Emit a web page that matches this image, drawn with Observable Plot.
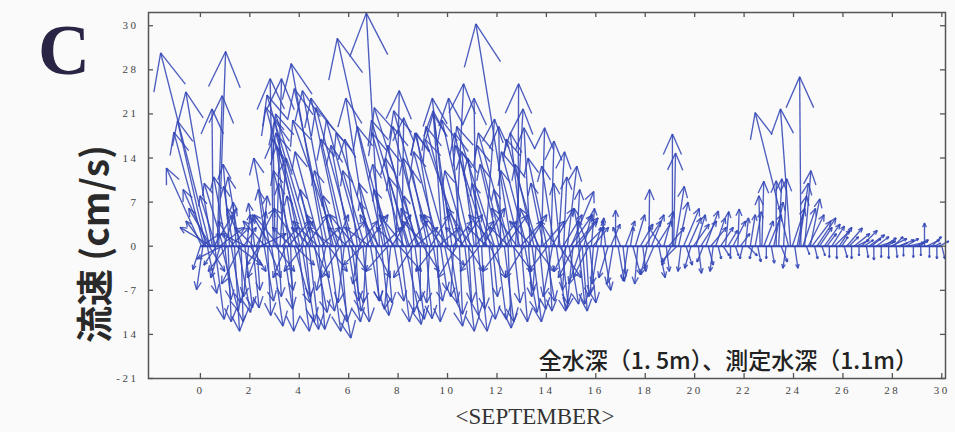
<!DOCTYPE html>
<html><head><meta charset="utf-8">
<script src="https://cdn.jsdelivr.net/npm/d3@7"></script>
<script src="https://cdn.jsdelivr.net/npm/@observablehq/plot@0.6"></script>
<style>
html,body{margin:0;padding:0;background:#fafafa;}
#chart{position:relative;width:955px;height:432px;overflow:hidden;}
#chart svg{position:absolute;left:0;top:0;}
#chart g[aria-label$="tick label"] text{letter-spacing:2.5px;}
.lbl{position:absolute;white-space:nowrap;line-height:1;}
#panel{left:38px;top:9px;font:bold 72px "Liberation Serif","DejaVu Serif",serif;color:#2b2545;}
#ylab{left:93px;top:244px;transform:translate(-50%,-50%) rotate(-90deg);font:bold 37px "Noto Sans CJK JP",sans-serif;color:#2a2a2a;}
#xlab{left:535px;top:404px;transform:translateX(-50%);font:23px "Liberation Serif","DejaVu Serif",serif;color:#333;}
#note{right:37px;top:342px;font:500 23px "Noto Sans CJK JP",sans-serif;color:#222;}
</style>
</head><body>
<div id="chart">
  <div class="lbl" id="panel">C</div>
  <div class="lbl" id="ylab">流速 (cm/s)</div>
  <div class="lbl" id="xlab">&lt;SEPTEMBER&gt;</div>
  <div class="lbl" id="note">全水深（1. 5m）、測定水深（1.1m）</div>
</div>
<script>
// time of each observation (day of September), eastward and northward current (cm/s)
const day = [
 0.00,0.05,0.10,0.15,0.22,0.28,0.32,0.38,0.42,0.48,0.52,0.58,0.62,0.68,0.74,0.80,0.85,0.92,0.98,
 1.05,1.12,1.18,1.25,1.32,1.38,1.45,1.52,1.58,1.65,1.72,1.80,1.88,1.95,
 2.05,2.12,2.20,2.28,2.35,2.42,2.50,2.58,2.65,2.72,2.80,2.88,2.95,
 3.02,3.08,3.15,3.22,3.35,3.42,3.50,3.58,3.65,3.72,3.80,3.88,3.95,
 4.02,4.10,4.18,4.25,4.32,4.40,4.48,4.55,4.62,4.70,4.78,4.85,4.92,
 5.00,5.08,5.15,5.22,5.30,5.38,5.45,5.52,5.60,5.68,5.75,5.82,5.90,5.97,
 6.05,6.12,6.20,6.28,6.35,6.42,6.50,6.58,6.65,6.72,6.80,6.88,6.95,
 7.02,7.10,7.18,7.25,7.32,7.40,7.48,7.55,7.62,7.70,7.78,7.85,7.92,
 8.00,8.08,8.15,8.22,8.30,8.38,8.45,8.52,8.60,8.68,8.75,8.82,8.90,8.97,
 9.05,9.12,9.20,9.28,9.35,9.42,9.50,9.58,9.65,9.72,9.80,9.88,9.95,
 10.02,10.10,10.18,10.25,10.32,10.40,10.48,10.55,10.62,10.70,10.78,10.85,10.92,
 11.00,11.08,11.15,11.22,11.30,11.38,11.45,11.52,11.60,11.68,11.75,11.82,11.90,
 12.00,12.08,12.15,12.22,12.30,12.38,12.45,12.52,12.60,12.68,12.75,12.85,12.92,12.98,
 13.05,13.12,13.20,13.28,13.35,13.42,13.50,13.58,13.65,13.72,13.80,13.88,13.95,
 14.02,14.10,14.18,14.25,14.32,14.40,14.48,14.55,14.62,14.70,14.78,14.85,14.92,
 15.00,15.08,15.15,15.22,15.30,15.38,15.45,15.52,15.60,15.68,15.75,15.82,15.90,
 16.00,16.10,16.20,16.30,16.40,16.50,16.60,16.70,16.80,16.90,17.00,17.10,17.20,17.30,17.40,17.50,17.60,17.70,17.80,17.90,
 18.00,18.08,18.15,18.25,18.35,18.45,18.55,18.65,18.75,18.85,18.95,19.05,19.10,19.15,19.20,19.28,19.35,19.45,19.55,19.65,19.75,19.85,19.95,
 20.05,20.15,20.25,20.35,20.45,20.55,20.65,20.75,20.85,20.95,21.05,21.15,21.25,21.35,21.45,21.55,21.65,21.75,21.85,21.95,
 22.05,22.15,22.25,22.35,22.45,22.55,22.65,22.72,22.80,22.90,23.00,23.10,23.20,23.30,23.40,23.50,23.60,23.70,23.80,23.88,23.95,
 24.05,24.15,24.22,24.30,24.38,24.45,24.52,24.60,24.68,24.75,24.85,24.95,25.05,25.15,25.25,25.35,25.45,25.55,25.65,25.75,25.85,25.95,
 26.05,26.15,26.25,26.35,26.45,26.55,26.65,26.75,26.85,26.95,27.05,27.15,27.25,27.35,27.45,27.55,27.65,27.75,27.85,27.95,
 28.05,28.15,28.25,28.35,28.45,28.55,28.65,28.85,28.95,29.05,29.15,29.30,29.40,29.50,29.60,29.70,29.80,29.90,30.00
];
const east = [
 -1.2,-5.6,-1.0,-4.8,-4.5,1.5,-4.0,-7.8,-3.5,-4.2,-0.2,1.5,-2.5,0.8,1.1,-1.5,2.7,-3.0,1.0,
 -2.0,0.5,-1.0,1.5,-1.5,0.8,-0.5,2.0,-1.8,0.3,-2.5,1.2,0.5,-0.8,
 0.3,1.0,-1.0,0.5,1.2,-2.0,0.8,1.5,-1.2,0.5,-2.5,1.8,-0.5,
 -0.3,0.8,0.5,1.0,1.5,-1.0,1.0,-2.0,0.5,-3.0,2.5,-1.5,1.8,
 -4.0,2.0,-6.0,0.8,-5.0,1.5,-7.0,-2.0,2.0,-6.5,1.0,-4.0,2.0,
 -5.2,-1.5,-5.3,1.8,-4.6,-3.0,2.5,-7.0,-2.5,1.0,-5.0,-1.0,-4.0,2.0,
 -3.0,1.5,-6.0,0.5,-2.0,-1.0,-5.5,1.0,-3.5,-0.5,-3.6,1.5,-2.0,
 -6.0,0.5,-3.0,-2.1,1.2,-7.3,-2.0,0.8,-5.0,-1.0,-3.0,1.5,0.5,
 -2.0,1.5,0.3,-5.0,2.5,-3.0,-6.0,0.5,-4.0,1.5,-2.0,-7.0,0.0,-3.0,
 -5.0,1.0,-2.5,-0.5,-6.0,1.5,-3.0,0.5,-4.0,1.0,-1.5,2.0,-5.0,
 -2.5,2.0,-3.0,-0.5,1.3,-5.0,0.5,-2.0,-6.0,1.5,-3.5,0.5,-4.5,
 1.0,-2.0,-0.3,1.5,-4.0,0.5,-2.5,1.5,-5.0,1.0,-3.0,0.8,-6.0,
 1.5,-3.0,-0.3,-4.0,1.5,-2.0,0.5,-5.0,-5.7,1.0,1.2,0.1,-3.0,1.0,
 -2.0,2.0,-4.0,0.5,-1.0,1.5,-3.0,-0.5,-5.0,1.0,0.5,-2.0,1.5,
 -3.0,0.5,0.5,-1.5,-2.0,1.5,1.0,-1.0,1.0,0.5,-0.5,1.5,1.5,
 3.6,-1.0,3.7,0.5,1.0,-1.0,0.8,1.2,0.5,-1.5,1.0,0.5,-0.5,
 0.8,-1.0,0.5,1.2,-0.5,-1.5,1.5,-1.0,0.0,1.0,-1.2,0.5,1.5,-0.8,0.5,1.2,1.5,-0.5,2.0,0.5,
 2.5,-1.0,0.1,2.0,-1.5,2.5,1.0,-2.0,1.5,0.5,2.5,-1.5,0.0,0.3,1.5,-2.5,1.5,-0.5,2.5,1.0,2.0,-1.0,2.5,
 1.5,0.5,2.5,-1.0,2.0,0.8,2.5,-0.5,1.5,0.5,2.0,1.0,0.5,1.5,0.0,2.0,0.5,0.2,1.5,-0.5,
 0.5,1.5,0.8,-0.5,1.0,0.5,-0.2,0.3,1.5,0.0,2.0,0.5,1.5,0.0,0.5,1.0,0.5,-0.5,-5.3,-1.6,2.0,
 0.5,1.5,1.5,-0.2,2.0,1.0,0.5,2.5,1.5,3.0,0.5,3.0,2.0,0.5,2.5,1.5,0.0,2.0,2.5,0.0,2.0,1.0,
 0.5,2.5,1.5,0.0,2.5,2.0,0.0,2.5,1.5,0.3,2.5,1.5,0.0,2.0,2.5,0.0,2.0,1.5,0.0,2.5,
 1.5,0.2,2.5,1.0,0.0,2.0,2.5,0.0,2.0,1.5,0.0,0.0,2.0,0.0,1.5,1.0,0.0,1.5,0.5
];
const north = [
 -3.7,12.4,-6.9,18.1,19.9,-7.5,9,30.7,6,24.5,21.8,-11.6,8,23.9,30.9,-5,-10.3,10,-8.5,
 11,-12,13,-9,9.5,-13.5,7,-10.5,11,-12,6,-9.8,5,-8,
 4.4,-9.8,6.8,-7,5.5,-5,8,-8.7,9,-11,14,-12.7,26.6,
 17,26.6,-8,14,-10,10,-7,16,-13.5,12,-9,8,-13.5,
 20,-12,22,-8,18,-13.2,24,9,-10.5,21,-13.2,15,-10.3,
 29,-7,25,-13.5,24.7,12,-14.6,20,8,-12,23.5,-9,17,-12,
 16,-10.3,22,-8.7,17,-6,20,-12,12,-9,23.5,-8.7,7,
 18,-8.7,10,37,-11,33,13,-9,19,-10,9,-8.7,24.7,
 14,-12,20.4,18,-12.4,11,20,-10.5,16,-11.6,8,22,-8.7,14,
 19,-11.5,12,-9,21.5,-8.7,18,-12,15,-7,21.5,-9,18,
 23.5,-12.7,21,-8,25.8,19,-10.8,23.5,17,-13.5,12,-9,20,
 -11,15,23.5,-13.5,18,-10,14,20.2,16,-11.6,10,-8,19,
 -11.6,13,19,16,-12,9,-13,18,35.3,-9,21.8,25.8,12,-12,
 18,-10.5,15,-8,18.8,-12,13,-7,17,-10,18.8,10,-8.7,
 14,-10.3,16.7,-8,12.7,-10.3,15,10,-9.2,11,-7,12.7,-9.2,
 8.7,-10,4.5,9,-9.2,6,-10.3,5,-8,4,-9,6,-7.6,
 3,-6,4.5,-7,4,-5,3.5,-6,5.7,-5.6,3,-4.5,4,-5.5,3,-4.5,5,-6,3.5,-4,
 4,-4.5,9,5,-3.5,4,-5,3,5.5,-4,3,-3,17.8,14.8,9.5,-2.5,7,-4,6,-3,4.5,-3.5,3.5,
 5,-4.3,4,-2.5,5.6,-3,3,-4,4.5,-2,3,-1.5,5.5,2.5,-2,4,-1.5,5.9,2,-2,
 4.5,-1.5,5,-2,5.5,-2.5,8,10.3,4,-2,5,-2.7,7,10.4,10.7,-2.5,10.7,-3.5,21.2,21.8,6,
 -3.5,8,10,26.9,6,12,-1.3,5,7.5,4,-2,4.5,3,-1.5,3.5,2,-1.8,3.2,2.5,-2,3,1.5,
 -1.8,2.9,1.5,-2,2,1,-1.5,2.5,1,-1.8,1.8,1.2,-2.2,1.5,0.8,-1.8,1.3,0.8,-2.0,1.2,
 1.5,-1.8,1.0,0.5,-1.6,1.2,0.6,-1.8,1,0.8,-1.5,3.7,1,-1.8,1.5,0.5,-2.0,0.8,-2
];
// weaker, oblique vectors of the same record that fill the band around the zero line
const dayWeak = [
 0.03,0.18,0.35,0.45,0.55,0.65,0.77,0.88,0.95,1.08,1.22,1.35,1.48,1.62,1.75,1.85,
 2.02,2.15,2.25,2.38,2.45,2.62,2.75,2.85,3.05,3.18,3.30,3.45,3.55,3.68,3.85,3.98,
 4.05,4.15,4.28,4.45,4.58,4.75,4.88,5.05,5.18,5.35,5.48,5.65,5.78,5.93,
 6.08,6.25,6.40,6.55,6.70,6.85,7.05,7.22,7.38,7.58,7.75,7.88,
 8.05,8.25,8.42,8.58,8.72,8.88,9.02,9.18,9.32,9.48,9.62,9.78,9.92,
 10.05,10.22,10.38,10.52,10.68,10.82,10.98,11.12,11.28,11.42,11.58,11.72,11.88,
 12.05,12.18,12.35,12.48,12.65,12.80,12.95,13.10,13.25,13.40,13.55,13.70,13.85,
 14.05,14.22,14.38,14.52,14.68,14.82,14.98,15.12,15.28,15.42,15.58,15.72,15.88
];
const eastWeak = [
 3,-3,2.5,-5,3,-2,4,-4,2,-3,3,-2.5,4,-3,2,-4,
 2.5,-3,3,-2,4,-3.5,2,-3,3,-4,2.5,-2,3.5,-3,3,-4,
 2,-3,3.5,-3,2.5,-4,3,-3,3,-4,2,-3,3.5,-3,
 2.5,-4,3,-3,3.5,-4,2.5,-3,3,-3.5,3,-3,
 3.5,-4,3,-3,3.5,-3,2.5,-4,3,-3,3.5,-3.5,3,
 -4,3,-3,3.5,-3,2.5,-4,3,-3,3.5,-3,2.5,-4,
 3,-3,3.5,-3,3,-4,3.5,-3,3,-3.5,3,-3,3.5,
 -3,3.5,-2.5,3.5,3,-2,3.5,-2.5,3,-2,3,-2.5,2.5
];
const northWeak = [
 2,4,-4,3,5,-3,3,-2,6,-4,3,4,-3,-6,3,2,
 -4,3,6,-3,2,4,-5,5,-4,5,3,-5,4,3,-3,6,
 4,-4,5,3,-5,4,3,5,-4,3,5,-5,4,3,
 -4,5,4,-3,5,3,-5,5,3,-4,5,3,
 -4,5,4,-5,3,6,-4,4,5,-4,3,5,-3,
 5,4,-5,5,3,-4,6,4,-4,6,3,-5,5,
 4,-4,5,3,-4,6,4,-5,5,4,-4,6,4,
 -4,6,4,-5,5,-4,5,-5,4,-6,3,-5,3
];
const xTicks = [0,2,4,6,8,10,12,14,16,18,20,22,24,26,28,30];
const yTicks = [-21,-14,-7,0,7,14,21,28,35];
const yTickLabels = ["-21","14","-7","0","7","14","21","28","30"];

const W = 955, H = 432, mL = 148, mR = 10, mT = 12, mB = 54;
const xDomain = [-2.1, 30.15], yDomain = [-21, 37.1];
const pxPerDay = (W - mL - mR) / (xDomain[1] - xDomain[0]);
const pxPerCm = (H - mT - mB) / (yDomain[1] - yDomain[0]);
const k = pxPerCm / pxPerDay; // days of x-axis per cm/s of eastward speed (equal pixel scale)

const rows = day.map((t, i) => ({t, u: east[i], v: north[i]}))
  .concat(dayWeak.map((t, i) => ({t, u: eastWeak[i], v: northWeak[i]})));
const stems = rows.map(d => ({x1: d.t, y1: 0, x2: d.t + d.u * k, y2: d.v}));
const heads = [];
const ang = 24 * Math.PI / 180;
for (const d of rows) {
  const m = Math.hypot(d.u, d.v);
  if (!m) continue;
  const h = 0.2 * m;
  const bx = -d.u / m, by = -d.v / m;
  for (const s of [-1, 1]) {
    const c = Math.cos(s * ang), sn = Math.sin(s * ang);
    const rx = bx * c - by * sn, ry = bx * sn + by * c;
    const wu = d.u + h * rx, wv = d.v + h * ry;
    heads.push({x1: d.t + d.u * k, y1: d.v, x2: d.t + wu * k, y2: wv});
  }
}

const col = "#3347b6";
const tickLenY = 5 / pxPerCm, tickLenX = 5 / pxPerDay;
const serif = "Liberation Serif, DejaVu Serif, serif";

const chart = Plot.plot({
  width: W, height: H,
  marginLeft: mL, marginRight: mR, marginTop: mT, marginBottom: mB,
  x: {domain: xDomain, axis: null},
  y: {domain: yDomain, axis: null},
  style: {background: "transparent", overflow: "visible"},
  marks: [
    Plot.ruleY([0], {x1: d3.min(day), x2: d3.max(day), stroke: col, strokeWidth: 2}),
    Plot.link(stems, {x1: "x1", y1: "y1", x2: "x2", y2: "y2", stroke: col, strokeWidth: 1.35, strokeOpacity: 0.88}),
    Plot.link(heads, {x1: "x1", y1: "y1", x2: "x2", y2: "y2", stroke: col, strokeWidth: 1.35, strokeOpacity: 0.88}),
    Plot.frame({stroke: "#555", strokeWidth: 1.5}),
    Plot.ruleX(xTicks, {x: d => d, y1: yDomain[0], y2: yDomain[0] + tickLenY, stroke: "#555", strokeWidth: 1.3}),
    Plot.ruleX(xTicks, {x: d => d, y1: yDomain[1] - tickLenY, y2: yDomain[1], stroke: "#555", strokeWidth: 1.3}),
    Plot.ruleY(yTicks, {y: d => d, x1: xDomain[0], x2: xDomain[0] + tickLenX, stroke: "#555", strokeWidth: 1.3}),
    Plot.ruleY(yTicks, {y: d => d, x1: xDomain[1] - tickLenX, x2: xDomain[1], stroke: "#555", strokeWidth: 1.3}),
    Plot.axisX(xTicks, {anchor: "bottom", tickSize: 0, tickPadding: 8, fontSize: 11, fontFamily: serif, fill: "#444"}),
    Plot.axisY(yTicks, {anchor: "left", tickSize: 0, tickPadding: 10, fontSize: 11, fontFamily: serif, fill: "#444",
      tickFormat: d => yTickLabels[yTicks.indexOf(d)]})
  ]
});
document.getElementById("chart").prepend(chart);
</script>
</body></html>
